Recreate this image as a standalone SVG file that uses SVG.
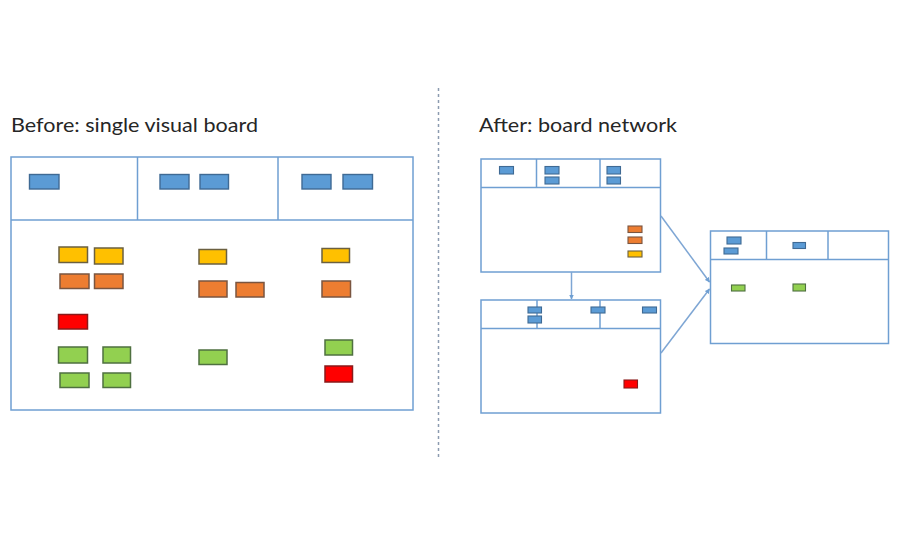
<svg xmlns="http://www.w3.org/2000/svg" width="900" height="550" viewBox="0 0 900 550">
<defs>
<style>
.board{fill:#ffffff;stroke:#6f9fd2;stroke-width:1.5}
.div{stroke:#6f9fd2;stroke-width:1.5;fill:none}
.conn{stroke:#7ea6d4;stroke-width:1.5;fill:none}
.blue{fill:#5b9bd5;stroke:#3f6a94;stroke-width:1.4}
.yellow{fill:#ffc000;stroke:#6b6040;stroke-width:1.5}
.orange{fill:#ed7d31;stroke:#7a5540;stroke-width:1.5}
.green{fill:#92d050;stroke:#4f7040;stroke-width:1.5}
.red{fill:#ff0000;stroke:#8a1a1a;stroke-width:1.5}
.sm{stroke-width:1.1}
.title{font-family:Lato,"Liberation Sans",sans-serif;font-size:19px;fill:#262626}
</style>
<marker id="arr" viewBox="0 0 10 10" refX="9" refY="5" markerWidth="5" markerHeight="5" orient="auto" markerUnits="userSpaceOnUse">
<path d="M0,0 L10,5 L0,10 z" fill="#6f9fd2"/>
</marker>
</defs>
<rect width="900" height="550" fill="#ffffff"/>

<text class="title" x="11" y="132" textLength="247" lengthAdjust="spacingAndGlyphs">Before: single visual board</text>
<text class="title" x="479" y="132" textLength="198" lengthAdjust="spacingAndGlyphs">After: board network</text>

<line x1="438.5" y1="88" x2="438.5" y2="458" stroke="#8c9bb0" stroke-width="1.5" stroke-dasharray="3,3"/>

<g id="before-board">
<rect class="board" x="11" y="157" width="402" height="253"/>
<line class="div" x1="11" y1="220" x2="413" y2="220"/>
<line class="div" x1="137.5" y1="157" x2="137.5" y2="220"/>
<line class="div" x1="278" y1="157" x2="278" y2="220"/>
<rect class="blue" x="29.5" y="174.5" width="29.5" height="14.5"/>
<rect class="blue" x="160" y="174.5" width="29" height="14.5"/>
<rect class="blue" x="200" y="174.5" width="28.5" height="14.5"/>
<rect class="blue" x="302" y="174.5" width="29" height="14.5"/>
<rect class="blue" x="343" y="174.5" width="29.5" height="14.5"/>
<rect class="yellow" x="59" y="247" width="28.5" height="15.5"/>
<rect class="yellow" x="94.5" y="248" width="28.5" height="16"/>
<rect class="orange" x="60" y="274" width="29" height="14.5"/>
<rect class="orange" x="94.5" y="274" width="28.5" height="14.5"/>
<rect class="red" x="58.5" y="314.5" width="29" height="14.5"/>
<rect class="green" x="58.5" y="347" width="29" height="16"/>
<rect class="green" x="103" y="347" width="27.5" height="16"/>
<rect class="green" x="60" y="373" width="29" height="14.5"/>
<rect class="green" x="103" y="373" width="27.5" height="14.5"/>
<rect class="yellow" x="199" y="249.5" width="27.5" height="14.5"/>
<rect class="orange" x="199" y="281" width="28" height="16"/>
<rect class="orange" x="236" y="282.5" width="28" height="14.5"/>
<rect class="green" x="199" y="350" width="28" height="14.5"/>
<rect class="yellow" x="322" y="248.5" width="27.5" height="14"/>
<rect class="orange" x="322" y="281" width="28.5" height="16"/>
<rect class="green" x="325" y="340" width="27.5" height="15"/>
<rect class="red" x="325" y="366" width="27.5" height="16"/>
</g>

<g id="board-a">
<rect class="board" x="481" y="159" width="179.5" height="113"/>
<line class="div" x1="481" y1="187.5" x2="660.5" y2="187.5"/>
<line class="div" x1="536.5" y1="159" x2="536.5" y2="187.5"/>
<line class="div" x1="600" y1="159" x2="600" y2="187.5"/>
<rect class="blue sm" x="499.5" y="166.5" width="14" height="7.5"/>
<rect class="blue sm" x="545" y="166.5" width="14" height="7.5"/>
<rect class="blue sm" x="545" y="177" width="14" height="7"/>
<rect class="blue sm" x="607" y="166.5" width="13.5" height="7.5"/>
<rect class="blue sm" x="607" y="177" width="13.5" height="7"/>
<rect class="orange sm" x="628" y="226" width="14" height="6.5"/>
<rect class="orange sm" x="628" y="237" width="14" height="6.5"/>
<rect class="yellow sm" x="628" y="251" width="14" height="6"/>
</g>

<g id="board-b">
<rect class="board" x="481" y="300" width="179.5" height="113"/>
<line class="div" x1="481" y1="328.5" x2="660.5" y2="328.5"/>
<line class="div" x1="537" y1="300" x2="537" y2="328.5"/>
<line class="div" x1="600" y1="300" x2="600" y2="328.5"/>
<rect class="blue sm" x="528" y="307" width="13.5" height="6"/>
<rect class="blue sm" x="528" y="316" width="13.5" height="7"/>
<rect class="blue sm" x="591" y="307" width="14" height="6"/>
<rect class="blue sm" x="642.5" y="307" width="14" height="6"/>
<rect class="red sm" x="624" y="380" width="13.5" height="8"/>
</g>

<g id="board-c">
<rect class="board" x="710.5" y="231" width="178" height="112.5"/>
<line class="div" x1="710.5" y1="259.5" x2="888.5" y2="259.5"/>
<line class="div" x1="766.5" y1="231" x2="766.5" y2="259.5"/>
<line class="div" x1="828" y1="231" x2="828" y2="259.5"/>
<rect class="blue sm" x="727" y="237" width="14" height="7"/>
<rect class="blue sm" x="724" y="248" width="14" height="6"/>
<rect class="blue sm" x="793" y="242.5" width="12.5" height="6"/>
<rect class="green sm" x="731.5" y="285" width="13.5" height="6"/>
<rect class="green sm" x="793" y="284" width="12.5" height="7"/>
</g>

<g id="connectors">
<line class="conn" x1="571.5" y1="272" x2="571.5" y2="299" marker-end="url(#arr)"/>
<line class="conn" x1="661" y1="216" x2="709.5" y2="282" marker-end="url(#arr)"/>
<line class="conn" x1="661" y1="353" x2="709.5" y2="289" marker-end="url(#arr)"/>
</g>
</svg>
